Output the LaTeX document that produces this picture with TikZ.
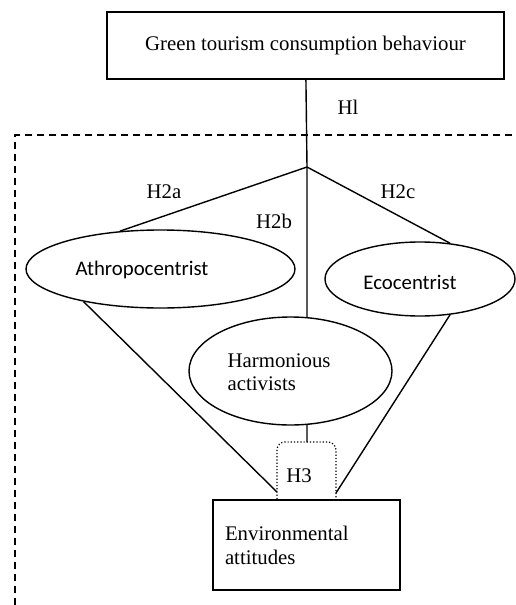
\documentclass[tikz,border=0pt]{standalone}
\usepackage{fontspec}
\setmainfont{Liberation Serif}
\newfontfamily\calibri{Carlito}
\usepackage{tikz}
\usetikzlibrary{shapes.geometric}
\usetikzlibrary{positioning}

\begin{document}
\begin{tikzpicture}[x=0.5pt,y=-0.5pt,line width=0.7pt,font=\fontsize{10.4}{11.5}\selectfont]
 \tikzstyle{box}=[draw, rectangle, inner sep=6pt]
 \tikzstyle{ell}=[draw, ellipse, inner sep=0pt]
 \tikzstyle{lbl}=[inner sep=0pt]
 \useasboundingbox (0,0) rectangle (515,605);

 % research boundary
 \draw[dash pattern=on 3.5pt off 2.5pt] (15,605) -- (15,135) -- (515,135);

 \node[box, minimum width=198.5pt, minimum height=33.5pt] (behav) at (305.5,45.5) {Green tourism consumption behaviour};
 \coordinate (hub) at (307,167);

 \node[ell, minimum width=134.5pt, minimum height=39pt] (athro) at (160.5,269) {};
 \node[ell, minimum width=95pt, minimum height=37pt] (eco) at (420,279) {};
 \node[ell, minimum width=101.5pt, minimum height=54pt] (harm) at (290.5,371) {};
 \node[lbl, font=\calibri\fontsize{10.4}{11.5}\selectfont] (athrotxt) at (142,270) {Athropocentrist};
 \node[lbl, font=\calibri\fontsize{10.4}{11.5}\selectfont] (ecotxt) at (410,282) {Ecocentrist};
 \node[lbl, anchor=west, align=left] (harmtxt) at (227,372) {Harmonious\\activists};

 \node[box, minimum width=93.5pt, minimum height=45pt, text width=81.5pt, align=left,
       font=\fontsize{10.4}{12}\selectfont] (env) at (306.5,545) {Environmental\\attitudes};

 % H3 moderation
 \coordinate (htop) at (307,442);
 \coordinate (hleft) at (277,492);
 \coordinate (hright) at (336,493);
 \draw[densely dotted, line width=0.6pt, rounded corners=4pt] (277,499) |- (htop) -| (336,499);

 \path
   (behav) edge (hub)
   (hub) edge (athro.137)
   (hub) edge (eco.50)
   (hub) edge (harm.73)
   (athro.203) edge (hleft)
   (eco.-50) edge (hright)
   (harm.-73) edge (htop);

 \node[lbl] (hone) at (348,107) {Hl};
 \node[lbl] (htwoa) at (164,192) {H2a};
 \node[lbl] (htwob) at (274,221) {H2b};
 \node[lbl] (htwoc) at (398,192) {H2c};
 \node[lbl] (hthree) at (299,476) {H3};
\end{tikzpicture}
\end{document}
